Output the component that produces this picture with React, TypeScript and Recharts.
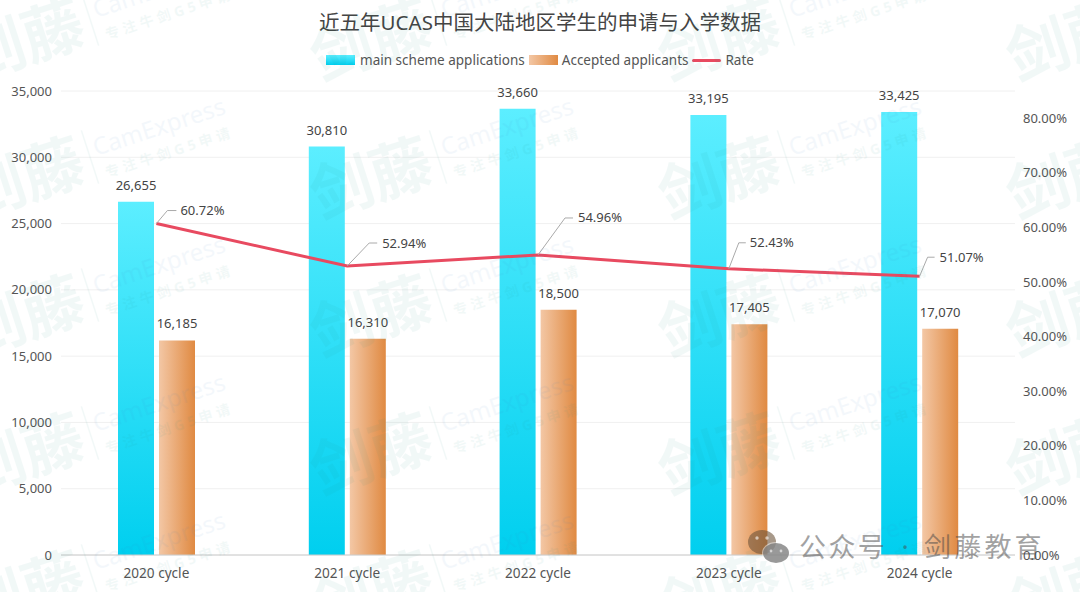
import React from "react";
import { ComposedChart, Bar, Line, XAxis, YAxis, CartesianGrid, Legend, LabelList } from "recharts";

const categories = ["2020 cycle", "2021 cycle", "2022 cycle", "2023 cycle", "2024 cycle"];
const applications = [26655, 30810, 33660, 33195, 33425];
const accepted = [16185, 16310, 18500, 17405, 17070];
const rate = [60.72, 52.94, 54.96, 52.43, 51.07];
const leftTicks = [0, 5000, 10000, 15000, 20000, 25000, 30000, 35000];
const rightTicks = [0, 10, 20, 30, 40, 50, 60, 70, 80];
const FONT = '"Noto Sans", "Noto Sans CJK SC", sans-serif';
const rateLeaders = [
  [11, -13, 20, 24],
  [22, -23, 30, 35],
  [27, -37, 35, 40],
  [10, -26, 17, 21],
  [8, -19, 15, 20],
];
const wmCols = [-258, 90, 438, 786, 1134];
const wmRows = [-119, 19, 157, 295, 433, 571];

const data = categories.map((c, i) => ({ c, applications: applications[i], accepted: accepted[i], rate: rate[i] }));

const RateLabel = (p: any) => {
  const l = rateLeaders[p.index];
  if (!l) return null;
  const x = p.x, y = p.y;
  return (
    <g>
      <path d={`M${x} ${y}L${x + l[0]} ${y + l[1]}L${x + l[2]} ${y + l[1]}`} fill="none" stroke="#aaa" strokeWidth={1} />
      <text x={x + l[3]} y={y + l[1] + 4.5} fontSize={13} fill="#444" fontFamily={FONT}>{Number(p.value).toFixed(2)}%</text>
    </g>
  );
};

const LegendBox = () => {
  const sw = { width: 29, height: 10, display: "inline-block" } as React.CSSProperties;
  const t = { fontSize: 13.5, color: "#555", lineHeight: "16px" } as React.CSSProperties;
  return (
    <div style={{ display: "flex", justifyContent: "center", alignItems: "center", fontFamily: FONT, width: 1080 }}>
      <span style={{ ...sw, background: "linear-gradient(#5ceeff,#00cfef)", marginRight: 5 }} />
      <span style={{ ...t, marginRight: 4 }}>main scheme applications</span>
      <span style={{ ...sw, background: "linear-gradient(90deg,#f3c7a5,#e08a42)", marginRight: 4 }} />
      <span style={{ ...t, marginRight: 4 }}>Accepted applicants</span>
      <span style={{ width: 29, height: 3, borderRadius: 2, background: "#e84a60", display: "inline-block", marginRight: 4 }} />
      <span style={t}>Rate</span>
    </div>
  );
};

const Watermark = () => (
  <svg width={1080} height={592} style={{ position: "absolute", left: 0, top: 0, pointerEvents: "none" }}>
    {wmCols.map((cx) =>
      wmRows.map((cy) => (
        <g key={`${cx}-${cy}`} transform={`translate(${cx} ${cy}) rotate(-18)`} fontFamily={FONT} opacity={0.055} fill="#1f8f86">
          <text x={-8} y={22} fontSize={62} fontWeight={700} textAnchor="end">剑藤</text>
          <line x1={0} y1={-28} x2={0} y2={28} stroke="#1f8f86" strokeWidth={1.5} />
          <text x={6} y={1} fontSize={24} fill="#3b7fc4">CamExpress</text>
          <text x={10} y={25} fontSize={14} letterSpacing={4} fontWeight={700}>专注牛剑G5申请</text>
        </g>
      ))
    )}
  </svg>
);

const Signature = () => (
  <svg width={1080} height={592} style={{ position: "absolute", left: 0, top: 0, pointerEvents: "none" }}>
    <ellipse cx={762} cy={542} rx={14} ry={12} fill="rgba(110,85,60,0.6)" />
    <ellipse cx={776} cy={553} rx={14} ry={11} fill="#fff" opacity={0.5} />
    <ellipse cx={776} cy={553} rx={13} ry={10} fill="rgba(110,110,110,0.7)" />
    <g fill="rgba(255,255,255,0.6)">
      <circle cx={757} cy={538} r={1.7} />
      <circle cx={767} cy={538} r={1.7} />
      <circle cx={771} cy={551} r={1.4} />
      <circle cx={781} cy={551} r={1.4} />
    </g>
    <g fontFamily={FONT} fontSize={27} fill="rgba(70,70,70,0.5)">
      <text x={799} y={557} letterSpacing={2.4}>公众号</text>
      <text x={905} y={557} textAnchor="middle">·</text>
      <text x={924} y={557} letterSpacing={3.2}>剑藤教育</text>
    </g>
  </svg>
);

export default function App() {
  return (
    <div style={{ position: "absolute", left: 0, top: 0, width: 1080, height: 592, background: "#fff", overflow: "hidden" }}>
      <div style={{ position: "absolute", top: 7, width: 1080, textAlign: "center", fontFamily: FONT, fontSize: 20.5, color: "#444", lineHeight: "30px" }}>
        近五年UCAS中国大陆地区学生的申请与入学数据
      </div>
      <ComposedChart width={1080} height={592} data={data} margin={{ top: 75, right: 0, bottom: 0, left: 0 }} barGap={5}>
        <defs>
          <linearGradient id="blueG" x1="0" y1="0" x2="0" y2="1">
            <stop offset="0%" stopColor="#5ceeff" />
            <stop offset="100%" stopColor="#00cfef" />
          </linearGradient>
          <linearGradient id="orangeG" x1="0" y1="0" x2="1" y2="0">
            <stop offset="0%" stopColor="#f3c7a5" />
            <stop offset="100%" stopColor="#e08a42" />
          </linearGradient>
        </defs>
        <CartesianGrid vertical={false} stroke="#f0f0f0" yAxisId="left" />
        <XAxis dataKey="c" height={37} tickLine={false} axisLine={{ stroke: "#ccc" }} tick={{ fontSize: 13.6, fill: "#555", fontFamily: FONT }} tickMargin={7} />
        <YAxis yAxisId="left" width={61} domain={[0, 35000]} ticks={leftTicks} tickLine={false} axisLine={false} tickFormatter={(v: number) => v.toLocaleString("en-US")} tick={{ fontSize: 13, fill: "#555", fontFamily: FONT }} tickMargin={3} />
        <YAxis yAxisId="right" orientation="right" width={65} domain={[0, 85]} ticks={rightTicks} tickLine={false} axisLine={false} tickFormatter={(v: number) => `${v.toFixed(2)}%`} tick={{ fontSize: 13, fill: "#555", fontFamily: FONT }} tickMargin={2} />
        <Legend verticalAlign="top" content={<LegendBox />} wrapperStyle={{ position: "absolute", top: 52, left: 0, width: 1080 }} />
        <Bar yAxisId="left" dataKey="applications" name="main scheme applications" barSize={36} fill="url(#blueG)" isAnimationActive={false}>
          <LabelList dataKey="applications" position="top" offset={12} fontSize={13} fill="#444" fontFamily={FONT} formatter={(v: number) => v.toLocaleString("en-US")} />
        </Bar>
        <Bar yAxisId="left" dataKey="accepted" name="Accepted applicants" barSize={36} fill="url(#orangeG)" isAnimationActive={false}>
          <LabelList dataKey="accepted" position="top" offset={12} fontSize={13} fill="#444" fontFamily={FONT} formatter={(v: number) => v.toLocaleString("en-US")} />
        </Bar>
        <Line yAxisId="right" dataKey="rate" name="Rate" stroke="#e84a60" strokeWidth={3} dot={false} isAnimationActive={false}>
          <LabelList dataKey="rate" content={<RateLabel />} />
        </Line>
      </ComposedChart>
      <Watermark />
      <Signature />
    </div>
  );
}
